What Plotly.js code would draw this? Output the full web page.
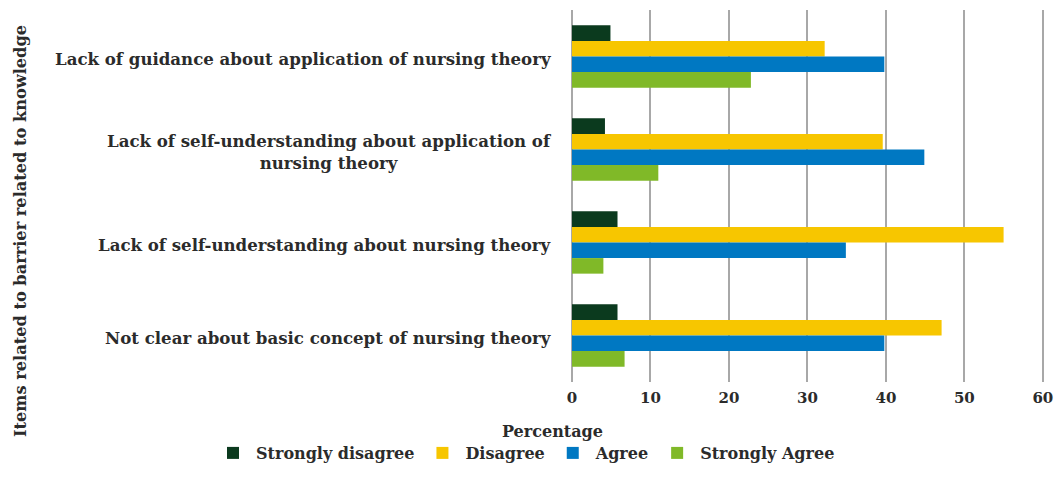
<!DOCTYPE html>
<html><head><meta charset="utf-8">
<script src="https://cdn.plot.ly/plotly-3.0.1.min.js"></script>
<style>body{margin:0;background:#fff}#chart{width:1055px;height:480px}</style>
</head><body><div id="chart"></div>
<script>
const categories = [
  "Lack of guidance about application of nursing theory",
  "Lack of self-understanding about application of<br>nursing theory",
  "Lack of self-understanding about nursing theory",
  "Not clear about basic concept of nursing theory"
];
const seriesNames = ["Strongly disagree", "Disagree", "Agree", "Strongly Agree"];
const stronglyDisagree = [4.9, 4.2, 5.8, 5.8];
const disagree = [32.2, 39.6, 55.0, 47.1];
const agree = [39.8, 44.9, 34.9, 39.8];
const stronglyAgree = [22.8, 11.0, 4.0, 6.7];
const xTicks = [0, 10, 20, 30, 40, 50, 60];
const colors = ["#0b3a1e", "#f7c600", "#0078c2", "#80b928"];

const FONT = "DejaVu Serif, serif";
const TXT = "#2b2b2b";
const W = 1055, H = 480, ML = 572, MR = 11, MT = 10, MB = 98;
const PW = W - ML - MR, PH = H - MT - MB;
const px2x = p => (p - ML) / PW;
const py2y = p => 1 - (p - MT) / PH;

const values = [stronglyDisagree, disagree, agree, stronglyAgree];
const data = values.map((v, i) => ({
  type: "bar", orientation: "h", name: seriesNames[i],
  y: categories, x: v, marker: {color: colors[i]}, hoverinfo: "x+name"
}));

const annotations = categories.map(c => ({
  xref: "paper", yref: "y", x: 0, y: c, xanchor: "right", yanchor: "middle",
  xshift: -18, yshift: -2, align: "center", showarrow: false, text: "<b>" + c + "</b>",
  font: {family: FONT, size: 16.6, color: TXT}
}));
annotations.push({
  xref: "paper", yref: "paper", x: px2x(20), y: py2y(231), xanchor: "center", yanchor: "middle",
  textangle: -90, showarrow: false, text: "<b>Items related to barrier related to knowledge</b>",
  font: {family: FONT, size: 16.2, color: TXT}
});
annotations.push({
  xref: "paper", yref: "paper", x: px2x(552), y: py2y(431), xanchor: "center", yanchor: "middle",
  showarrow: false, text: "<b>Percentage</b>", font: {family: FONT, size: 16, color: TXT}
});

const layout = {
  width: W, height: H,
  margin: {l: ML, r: MR, t: MT, b: MB},
  paper_bgcolor: "#fff", plot_bgcolor: "#fff",
  barmode: "group", bargap: 0.33, bargroupgap: 0,
  font: {family: FONT, color: TXT},
  xaxis: {
    range: [0, 60.15], tickvals: xTicks, ticktext: xTicks.map(String),
    showgrid: true, gridcolor: "#a8a8a8", gridwidth: 2,
    zeroline: true, zerolinecolor: "#a8a8a8", zerolinewidth: 2,
    showline: false, ticks: "", automargin: false,
    tickfont: {family: FONT, size: 15, color: TXT, weight: "bold"}, ticklabelstandoff: 5
  },
  yaxis: {
    autorange: "reversed", showticklabels: false, showgrid: false, zeroline: false, showline: false, ticks: "", automargin: false
  },
  showlegend: true,
  legend: {
    orientation: "h", xref: "paper", yref: "paper", x: px2x(210), y: py2y(453),
    xanchor: "left", yanchor: "middle", traceorder: "normal",
    font: {family: FONT, size: 16, color: TXT, weight: "bold"}, itemwidth: 36
  },
  annotations: annotations
};
Plotly.newPlot("chart", data, layout, {displayModeBar: false, staticPlot: true});
</script></body></html>
